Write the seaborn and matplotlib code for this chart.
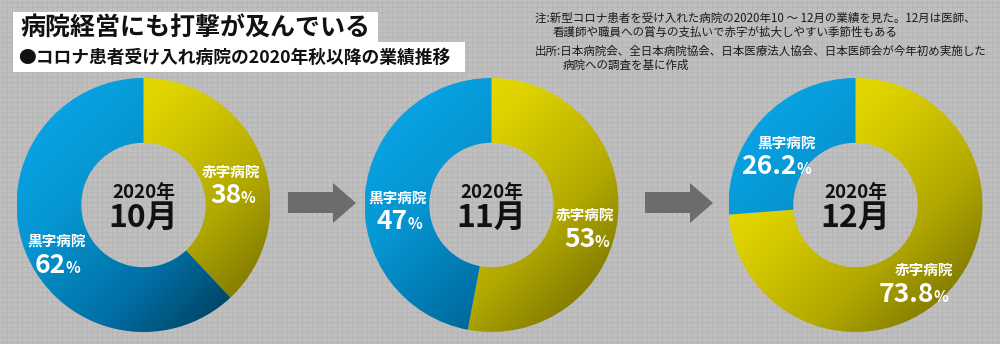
import numpy as np
import matplotlib
matplotlib.use('Agg')
import matplotlib.pyplot as plt
import seaborn as sns
from matplotlib.colors import LinearSegmentedColormap
from matplotlib.patches import Rectangle, Polygon

# ---------------- data ----------------
years = ['2020年', '2020年', '2020年']
months = ['10月', '11月', '12月']
deficit_pct = [38, 53, 73.8]      # 赤字病院
surplus_pct = [62, 47, 26.2]      # 黒字病院
deficit_label = '赤字病院'
surplus_label = '黒字病院'

title = '病院経営にも打撃が及んでいる'
subtitle = '●コロナ患者受け入れ病院の2020年秋以降の業績推移'
note_lines = [
    '注:新型コロナ患者を受け入れた病院の2020年10 ～ 12月の業績を見た。12月は医師、',
    '看護師や職員への賞与の支払いで赤字が拡大しやすい季節性もある',
    '出所:日本病院会、全日本病院協会、日本医療法人協会、日本医師会が今年初め実施した',
    '病院への調査を基に作成',
]

# ---------------- style ----------------
sns.set_theme(style='white')
plt.rcParams['font.family'] = ['Noto Sans CJK JP', 'DejaVu Sans']

W, H = 1000, 344
fig = plt.figure(figsize=(W / 100, H / 100), dpi=100)
fig.patch.set_facecolor('#bfbfbf')

bg = fig.add_axes([0, 0, 1, 1])
bg.set_xlim(0, W)
bg.set_ylim(H, 0)
bg.axis('off')
# subtle grid texture
bg.vlines(np.arange(2, W, 5), 0, H, color='#b1b1b1', lw=0.45, zorder=0)
bg.hlines(np.arange(2, H, 5), 0, W, color='#b1b1b1', lw=0.45, zorder=0)

# title boxes
bg.add_patch(Rectangle((13, 12), 365, 31, facecolor='white', edgecolor='none', zorder=2))
bg.add_patch(Rectangle((13, 42), 452, 30, facecolor='white', edgecolor='none', zorder=2))
bg.text(20, 28, title, fontsize=18, fontweight='bold', color='#111111',
        va='center', ha='left', zorder=3)
bg.text(18, 57.5, subtitle, fontsize=12.8, fontweight='bold', color='#111111',
        va='center', ha='left', zorder=3)

# notes
note_pos = [(535, 18), (553, 32.5), (535, 51), (563, 65)]
for (x, y), s in zip(note_pos, note_lines):
    bg.text(x, y, s, fontsize=8.3, color='#1a1a1a', va='center', ha='left', zorder=3)

# arrows
arrow_shape = np.array([(288, 192), (333, 192), (333, 183), (356, 203),
                        (333, 223), (333, 213), (288, 213)], dtype=float)
for dx in (0, 357):
    pts = arrow_shape.copy()
    pts[:, 0] += dx
    bg.add_patch(Polygon(pts, closed=True, facecolor='#6c6c6c', edgecolor='none', zorder=2))

# gradients
cmap_yellow = LinearSegmentedColormap.from_list(
    'yel', [(0, '#f4e800'), (0.35, '#ddd100'), (0.65, '#b3aa00'),
            (0.85, '#878000'), (1.0, '#151400')])
cmap_blue = LinearSegmentedColormap.from_list(
    'blu', [(0, '#0aaaee'), (0.35, '#0696d2'), (0.65, '#006fa4'),
            (0.85, '#00486c'), (1.0, '#00121e')])

gy, gx = np.mgrid[-1:1:400j, -1:1:400j]
grad = (gx - gy + 2) / 4.0   # 0 at top-left, 1 at bottom-right (origin lower)

centers_x = [143.5, 491.5, 855.5]
cy, R = 205, 127
label_r = 0.74

for i, cx in enumerate(centers_x):
    ax = fig.add_axes([(cx - R) / W, (H - cy - R) / H, 2 * R / W, 2 * R / H])
    ax.patch.set_alpha(0)
    vals = [deficit_pct[i], surplus_pct[i]]
    wedges, _ = ax.pie(vals, startangle=90, counterclock=False, radius=1,
                       wedgeprops=dict(width=0.51, edgecolor='none', facecolor='none'))
    for w, cm in zip(wedges, [cmap_yellow, cmap_blue]):
        im = ax.imshow(grad, extent=(-1, 1, -1, 1), origin='lower', cmap=cm,
                       vmin=0, vmax=1, zorder=1, interpolation='bilinear')
        im.set_clip_path(w)
    ax.set_xlim(-1, 1)
    ax.set_ylim(-1, 1)
    ax.set_aspect('equal')
    ax.axis('off')

    # center text
    ax.text(0, 0.1, years[i], fontsize=13.5, fontweight='bold', color='#111111',
            ha='center', va='center', zorder=5)
    ax.text(0, -0.1, months[i], fontsize=23, fontweight='bold', color='#111111',
            ha='center', va='center', zorder=5)

    # slice labels
    for j, (w, name, v) in enumerate(zip(wedges, [deficit_label, surplus_label], vals)):
        th = np.deg2rad((w.theta1 + w.theta2) / 2)
        lx, ly = label_r * np.cos(th), label_r * np.sin(th)
        ax.text(lx, ly - 0.01, name, fontsize=10.5, fontweight='bold', color='white',
                ha='center', va='center', zorder=5)
        ax.text(lx + 0.08, ly - 0.26, f'{v:g}', fontsize=19, fontweight='bold',
                color='white', ha='right', va='baseline', zorder=5)
        ax.text(lx + 0.075, ly - 0.26, '%', fontsize=11, fontweight='bold',
                color='white', ha='left', va='baseline', zorder=5)

fig.savefig('out.png', dpi=100, facecolor=fig.get_facecolor())
